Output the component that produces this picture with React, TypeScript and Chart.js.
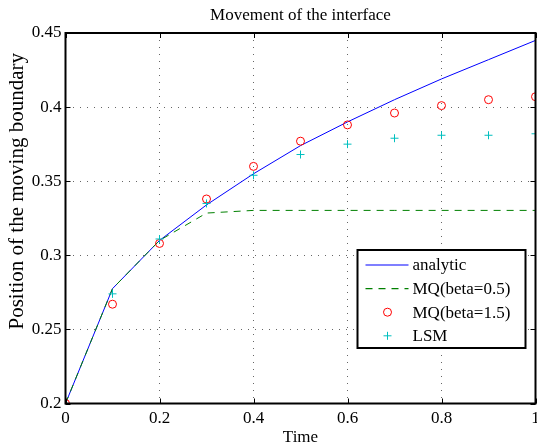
import React, { useEffect, useRef } from "react";
import { Chart, registerables } from "chart.js";

Chart.register(...registerables);

const timeValues = [0, 0.1, 0.2, 0.3, 0.4, 0.5, 0.6, 0.7, 0.8, 0.9, 1.0];
const analyticValues = [0.2, 0.2775, 0.31, 0.334, 0.355, 0.374, 0.39, 0.405, 0.419, 0.432, 0.445];
const mqBeta05Values = [0.2, 0.2775, 0.31, 0.3285, 0.3303, 0.3303, 0.3303, 0.3303, 0.3303, 0.3303, 0.3303];
const mqBeta15Values = [0.2, 0.267, 0.308, 0.338, 0.36, 0.377, 0.388, 0.396, 0.401, 0.405, 0.407];
const lsmValues = [0.2, 0.274, 0.311, 0.335, 0.354, 0.368, 0.375, 0.379, 0.381, 0.381, 0.382];

const xTickValues = [0, 0.2, 0.4, 0.6, 0.8, 1];
const xTickLabels = ["0", "0.2", "0.4", "0.6", "0.8", "1"];
const yTickValues = [0.2, 0.25, 0.3, 0.35, 0.4, 0.45];
const yTickLabels = ["0.2", "0.25", "0.3", "0.35", "0.4", "0.45"];

const seriesLabels = ["analytic", "MQ(beta=0.5)", "MQ(beta=1.5)", "LSM"];
const titleText = "Movement of the interface";
const xAxisLabel = "Time";
const yAxisLabel = "Position of the moving boundary";

const FONT = "'Liberation Serif', 'Times New Roman', serif";

const toPoints = (ys: number[]) => timeValues.map((t, i) => ({ x: t, y: ys[i] }));

const boxPlugin = {
  id: "matlabBox",
  afterDatasetsDraw(chart: any) {
    const { ctx, chartArea: a, scales } = chart;
    ctx.save();
    ctx.strokeStyle = "#000";
    ctx.lineWidth = 1;
    const tl = 5;
    ctx.beginPath();
    xTickValues.forEach((v) => {
      const x = Math.round(scales.x.getPixelForValue(v)) + 0.5;
      ctx.moveTo(x, a.bottom);
      ctx.lineTo(x, a.bottom - tl);
      ctx.moveTo(x, a.top);
      ctx.lineTo(x, a.top + tl);
    });
    yTickValues.forEach((v) => {
      const y = Math.round(scales.y.getPixelForValue(v)) + 0.5;
      ctx.moveTo(a.left, y);
      ctx.lineTo(a.left + tl, y);
      ctx.moveTo(a.right, y);
      ctx.lineTo(a.right - tl, y);
    });
    ctx.stroke();
    ctx.lineWidth = 2;
    ctx.strokeRect(a.left, a.top, a.right - a.left, a.bottom - a.top);
    ctx.restore();
  },
  afterDraw(chart: any) {
    const { ctx, chartArea: a } = chart;
    ctx.save();
    // axis titles
    ctx.fillStyle = "#000";
    ctx.font = `17px ${FONT}`;
    ctx.textAlign = "center";
    ctx.textBaseline = "middle";
    ctx.fillText(xAxisLabel, (a.left + a.right) / 2, a.bottom + 34.5);
    ctx.save();
    ctx.translate(17.5, (a.top + a.bottom) / 2 - 27);
    ctx.rotate(-Math.PI / 2);
    ctx.font = `21px ${FONT}`;
    ctx.fillText(yAxisLabel, 0, 0);
    ctx.restore();

    // legend
    const w = 168;
    const h = 98;
    const L = a.right - 10 - w;
    const T = a.top + 217;
    ctx.fillStyle = "#fff";
    ctx.fillRect(L, T, w, h);
    ctx.lineWidth = 2;
    ctx.strokeStyle = "#000";
    ctx.strokeRect(L, T, w, h);
    ctx.font = `17px ${FONT}`;
    ctx.textAlign = "left";
    const ds = chart.data.datasets;
    for (let i = 0; i < ds.length; i++) {
      const d = ds[i];
      const y = T + 15 + i * 23.6;
      ctx.save();
      if (d.showLine !== false) {
        ctx.strokeStyle = d.borderColor;
        ctx.lineWidth = 1.2;
        ctx.setLineDash(d.borderDash || []);
        ctx.beginPath();
        ctx.moveTo(L + 8, y);
        ctx.lineTo(L + 51, y);
        ctx.stroke();
      } else {
        ctx.strokeStyle = d.borderColor;
        ctx.lineWidth = 1;
        const cx = L + 30;
        const r = d.pointRadius;
        ctx.beginPath();
        if (d.pointStyle === "circle") {
          ctx.arc(cx, y, r, 0, Math.PI * 2);
        } else {
          ctx.moveTo(cx - r, y);
          ctx.lineTo(cx + r, y);
          ctx.moveTo(cx, y - r);
          ctx.lineTo(cx, y + r);
        }
        ctx.stroke();
      }
      ctx.restore();
      ctx.fillStyle = "#000";
      ctx.fillText(d.label, L + 55, y + 1);
    }
    ctx.restore();
  },
};

export default function App() {
  const canvasRef = useRef<HTMLCanvasElement | null>(null);

  useEffect(() => {
    document.body.style.margin = "0";
    const canvas = canvasRef.current;
    if (!canvas) return;
    const chart = new Chart(canvas, {
      type: "line",
      data: {
        datasets: [
          {
            label: seriesLabels[0],
            data: toPoints(analyticValues),
            borderColor: "rgb(0,0,255)",
            borderWidth: 1,
            pointRadius: 0,
            fill: false,
            order: 3,
          },
          {
            label: seriesLabels[1],
            data: toPoints(mqBeta05Values),
            borderColor: "rgb(0,128,0)",
            borderWidth: 1,
            borderDash: [7, 6],
            pointRadius: 0,
            fill: false,
            order: 2,
          },
          {
            label: seriesLabels[2],
            data: toPoints(mqBeta15Values),
            showLine: false,
            borderColor: "rgb(255,0,0)",
            backgroundColor: "rgba(0,0,0,0)",
            pointStyle: "circle",
            pointRadius: 4,
            pointBorderWidth: 1,
            order: 1,
          },
          {
            label: seriesLabels[3],
            data: toPoints(lsmValues),
            showLine: false,
            borderColor: "rgb(0,191,191)",
            backgroundColor: "rgb(0,191,191)",
            pointStyle: "cross",
            pointRadius: 4,
            pointBorderWidth: 1,
            order: 0,
          },
        ],
      } as any,
      options: {
        animation: false,
        responsive: true,
        maintainAspectRatio: false,
        layout: { autoPadding: false, padding: { left: 0, right: 1.5, top: 0, bottom: 0 } },
        plugins: {
          legend: { display: false },
          tooltip: { enabled: false },
          title: {
            display: true,
            text: titleText,
            fullSize: false,
            color: "#000",
            font: { family: FONT, size: 17, weight: "normal", lineHeight: 1.2 },
            padding: { top: 5, bottom: 7.6 },
          },
        },
        scales: {
          x: {
            type: "linear",
            min: 0,
            max: 1,
            afterBuildTicks: (s: any) => {
              s.ticks = xTickValues.map((v) => ({ value: v }));
            },
            afterFit: (s: any) => {
              s.height = 44.5;
              s.paddingRight = 0;
              s.paddingLeft = 0;
            },
            ticks: {
              autoSkip: false,
              maxRotation: 0,
              padding: 5,
              color: "#000",
              font: { family: FONT, size: 17 },
              callback: (_v: any, i: number) => xTickLabels[i],
            },
            grid: { color: "rgba(0,0,0,0.6)", lineWidth: 1, drawTicks: false },
            border: { display: false, dash: [1, 6] },
          },
          y: {
            type: "linear",
            min: 0.2,
            max: 0.45,
            afterBuildTicks: (s: any) => {
              s.ticks = yTickValues.map((v) => ({ value: v }));
            },
            afterFit: (s: any) => {
              s.width = 65.5;
              s.paddingTop = 0;
              s.paddingBottom = 0;
            },
            ticks: {
              autoSkip: false,
              padding: 4,
              color: "#000",
              font: { family: FONT, size: 17 },
              callback: (_v: any, i: number) => yTickLabels[i],
            },
            grid: { color: "rgba(0,0,0,0.6)", lineWidth: 1, drawTicks: false },
            border: { display: false, dash: [1, 6] },
          },
        },
      } as any,
      plugins: [boxPlugin],
    });
    return () => chart.destroy();
  }, []);

  return (
    <div style={{ position: "relative", width: "537px", height: "448px" }}>
      <canvas ref={canvasRef} />
    </div>
  );
}
